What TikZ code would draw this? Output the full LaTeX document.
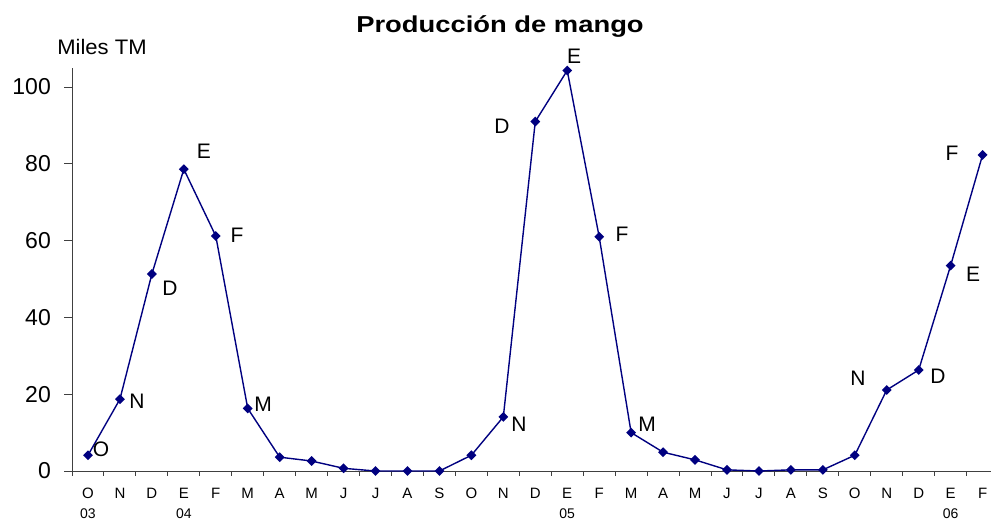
\documentclass[tikz,border=0pt]{standalone}
\usepackage{fontspec}
\setmainfont{Liberation Sans}
\usetikzlibrary{shapes.geometric}
\definecolor{navy}{RGB}{0,0,128}
\begin{document}
\begin{tikzpicture}[x=1pt,y=-1pt,
  axisline/.style={line width=1pt,black!75},
  pt/.style={diamond,fill=navy,draw=none,inner sep=0pt,minimum size=10pt},
  series/.style={navy,line width=1.4pt},
  lbl/.style={font=\fontsize{21}{21}\selectfont,inner sep=0pt},
  ytl/.style={font=\fontsize{23}{23}\selectfont,inner sep=0pt,anchor=east},
  mon/.style={font=\fontsize{15}{15}\selectfont,inner sep=0pt},
  yr/.style={font=\fontsize{14}{14}\selectfont,inner sep=0pt},
  ttl/.style={font=\bfseries\fontsize{23}{23}\selectfont,inner sep=0pt,xscale=1.19}]
\useasboundingbox (0,0) rectangle (991,522);
\fill[white] (0,0) rectangle (991,522);
% title and unit
\node[ttl] (title) at (500,27) {Producción de mango};
\node[font=\fontsize{21}{21}\selectfont,inner sep=0pt,xscale=1.05] (unit) at (102,47) {Miles TM};
% axes
\coordinate (ytop) at (72,68);
\coordinate (orig) at (72,471);
\coordinate (xend) at (991,471);
\draw[axisline] (ytop) -- (orig) -- (xend);
\foreach \v in {0,20,...,100}{
  \draw[axisline] (64,{471-3.84*\v}) -- (72,{471-3.84*\v});
  \node[ytl] (yl\v) at (51,{471-3.84*\v}) {\v};
}
\foreach \k in {0,...,28}{
  \draw[axisline] ({72+31.95*\k},471) -- ({72+31.95*\k},476);
}
% month labels
\foreach \m [count=\i from 0] in {O,N,D,E,F,M,A,M,J,J,A,S,O,N,D,E,F,M,A,M,J,J,A,S,O,N,D,E,F}{
  \node[mon] (m\i) at ({72+31.95*(\i+0.5)},493) {\m};
}
\node[yr] (y03) at ({72+31.95*0.5},514) {03};
\node[yr] (y04) at ({72+31.95*3.5},514) {04};
\node[yr] (y05) at ({72+31.95*15.5},514) {05};
\node[yr] (y06) at ({72+31.95*27.5},514) {06};
% data points
\foreach \v [count=\i from 0] in {4.1,18.7,51.3,78.6,61.2,16.3,3.6,2.6,0.7,0,0,0,4.1,14.1,91,104.3,61,10,4.9,2.9,0.3,0,0.3,0.3,4.1,21.1,26.3,53.5,82.3}{
  \coordinate (p\i) at ({72+31.95*(\i+0.5)},{471-3.84*\v});
}
\draw[series] (p0) \foreach \i in {1,...,28}{ -- (p\i)};
\foreach \i in {0,...,28}{
  \node[pt] (d\i) at (p\i) {};
}
% point labels
\node[lbl] (l0) at (101,449) {O};
\node[lbl] (l1) at (137,401) {N};
\node[lbl] (l2) at (170,288) {D};
\node[lbl] (l3) at (204,151) {E};
\node[lbl] (l4) at (237,235) {F};
\node[lbl] (l5) at (263,404) {M};
\node[lbl] (l13) at (519,424) {N};
\node[lbl] (l14) at (502,126) {D};
\node[lbl] (l15) at (574,56) {E};
\node[lbl] (l16) at (622,234) {F};
\node[lbl] (l17) at (647,424) {M};
\node[lbl] (l25) at (858,378) {N};
\node[lbl] (l26) at (938,376) {D};
\node[lbl] (l27) at (973,274) {E};
\node[lbl] (l28) at (952,153) {F};
\end{tikzpicture}
\end{document}
